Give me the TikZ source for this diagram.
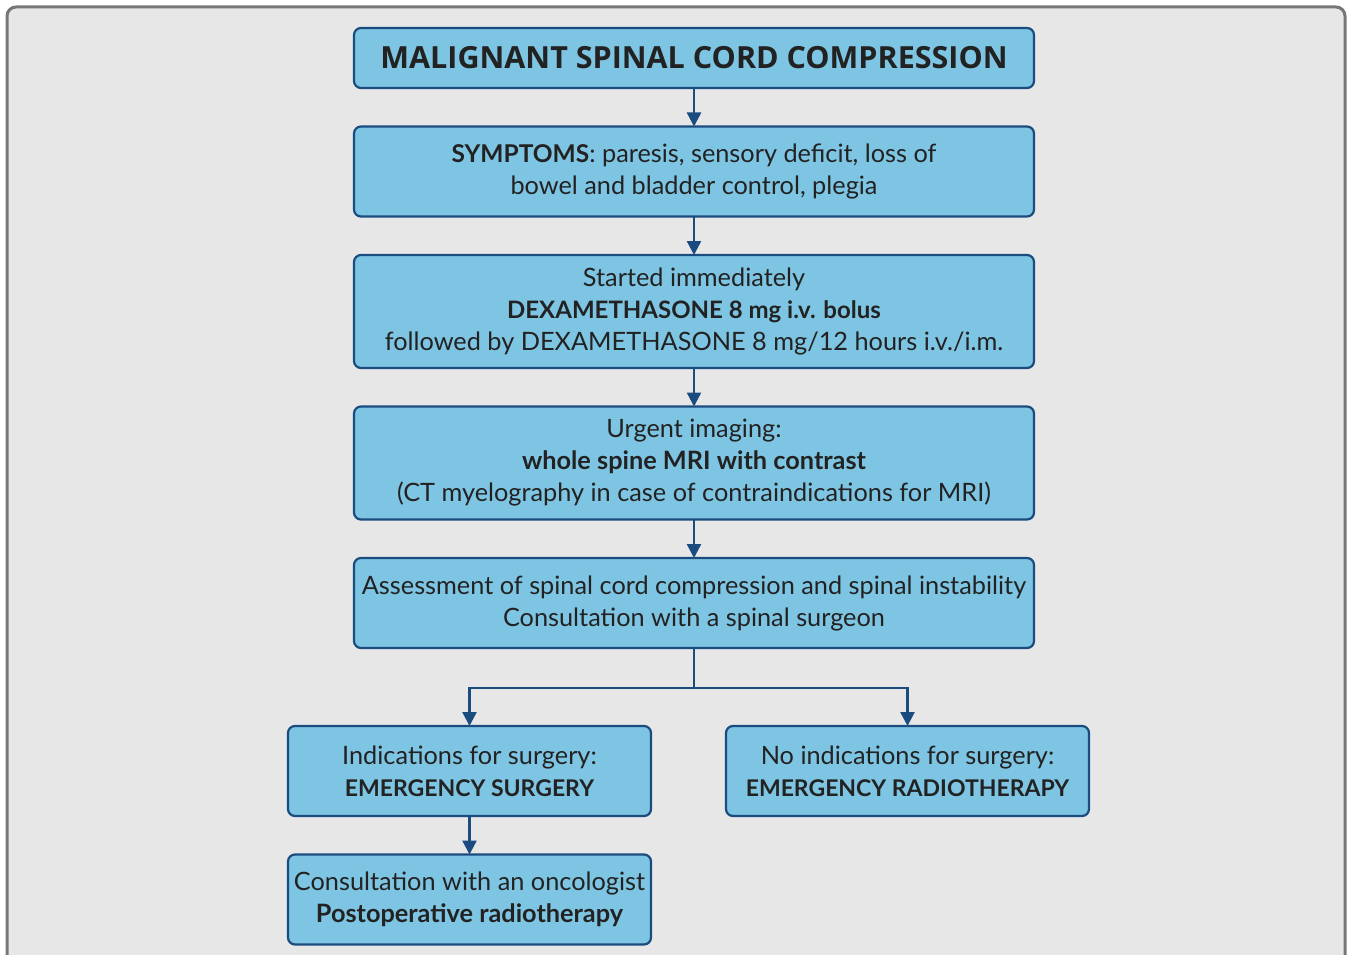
\documentclass[tikz,border=0pt]{standalone}
\usepackage{fontspec}
\setmainfont{Lato}
\newfontfamily\titlefont{Open Sans}
\usetikzlibrary{arrows.meta,positioning}
\definecolor{boxfill}{HTML}{7EC5E3}
\definecolor{boxline}{HTML}{1B4C80}
\definecolor{panel}{HTML}{E7E7E7}
\definecolor{panelline}{HTML}{777777}
\definecolor{ink}{HTML}{222222}
% bold capitals run wide in Lato, so set them a bit smaller
\newcommand\capbold[2][23]{{\bfseries\fontsize{#1}{32}\selectfont #2}}

\begin{document}
\begin{tikzpicture}[
  x=1pt, y=-1pt,
  node distance=38.5pt,
  box/.style={draw=boxline, line width=2.2pt, fill=boxfill, rounded corners=7pt, align=center, minimum width=680pt, inner sep=0pt, outer sep=0pt, text=ink, font=\fontsize{25.3}{32}\selectfont},
  halfbox/.style={box, minimum width=363pt, minimum height=90pt},
  arrow/.style={-{Triangle[length=14pt, width=14pt]}, line width=2.5pt, draw=boxline}
]
\useasboundingbox (0,0) rectangle (1351,955);
\draw[panelline, fill=panel, line width=3pt, rounded corners=9pt] (7,7) rectangle (1345,990);

\node[box, minimum height=60pt, font=\titlefont\bfseries\fontsize{30.5}{32}\selectfont] (title) at (694,58) {MALIGNANT SPINAL CORD COMPRESSION};
\node[box, minimum height=90pt, below=of title] (symptoms) {\capbold[24.5]{SYMPTOMS}: paresis, sensory deficit, loss of\\bowel and bladder control, plegia};
\node[box, minimum height=113pt, below=of symptoms] (dexa) {Started immediately\\\capbold[24]{DEXAMETHASONE 8 mg i.v. bolus}\\followed by DEXAMETHASONE 8 mg/12 hours i.v./i.m.};
\node[box, minimum height=113pt, below=of dexa] (imaging) {Urgent imaging:\\\textbf{whole spine MRI with contrast}\\(CT myelography in case of contraindications for MRI)};
\node[box, minimum height=90pt, below=of imaging] (assess) {Assessment of spinal cord compression and spinal instability\\Consultation with a spinal surgeon};

\node[halfbox] (surgery) at (469.5,771) {Indications for surgery:\\\capbold{EMERGENCY SURGERY}};
\node[halfbox] (radio) at (907.5,771) {No indications for surgery:\\\capbold{EMERGENCY RADIOTHERAPY}};
\node[halfbox, below=of surgery] (oncology) {Consultation with an oncologist\\\textbf{Postoperative radiotherapy}};

\coordinate (split) at (694,688);

\draw[arrow] (title) -- (symptoms);
\draw[arrow] (symptoms) -- (dexa);
\draw[arrow] (dexa) -- (imaging);
\draw[arrow] (imaging) -- (assess);
\draw[line width=2.5pt, boxline] (assess) -- (split);
\draw[arrow] (split) -| (surgery);
\draw[arrow] (split) -| (radio);
\draw[arrow] (surgery) -- (oncology);
\end{tikzpicture}
\end{document}
